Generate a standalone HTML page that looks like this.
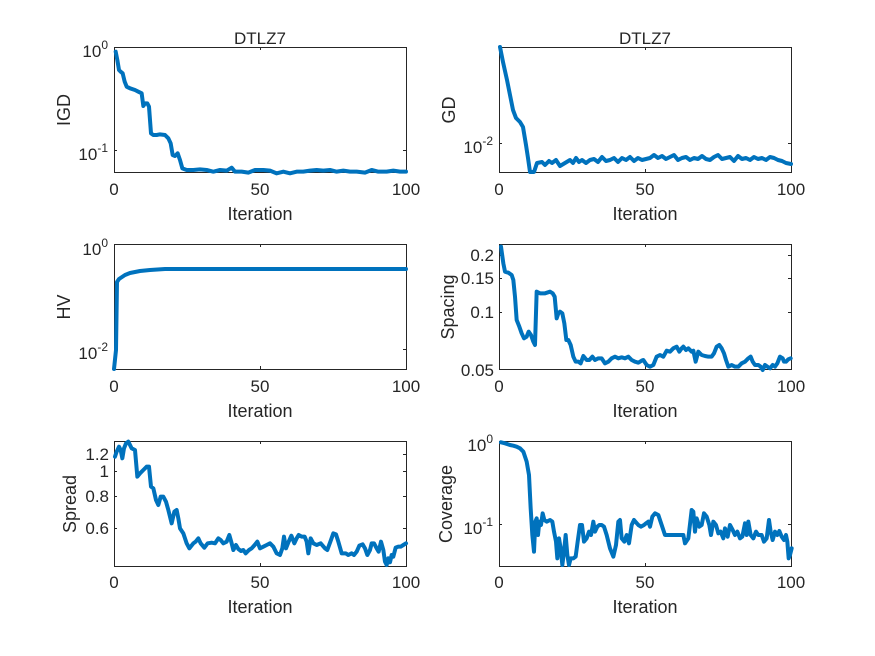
<!DOCTYPE html>
<html><head><style>body{margin:0;background:#fff}svg{display:block}text{font-family:"Liberation Sans",sans-serif;fill:#262626}</style></head>
<body>
<svg width="875" height="656" xmlns="http://www.w3.org/2000/svg">
<rect width="875" height="656" fill="#fff"/>
<g fill="none" stroke="#262626" stroke-width="1">
<rect x="114.5" y="47.5" width="292" height="125"/>
<rect x="499.5" y="47.5" width="292" height="125"/>
<rect x="114.5" y="244.5" width="292" height="125"/>
<rect x="499.5" y="244.5" width="292" height="125"/>
<rect x="114.5" y="441.5" width="292" height="125"/>
<rect x="499.5" y="441.5" width="292" height="125"/>
<path d="M260.5 172v-3M260.5 47v3M499.5 172v-3M645.5 172v-3M645.5 47v3M260.5 369v-3M260.5 244v3M645.5 369v-3M645.5 244v3M260.5 566v-3M260.5 441v3M645.5 566v-3M645.5 441v3
M114 150.5h3M406 150.5h-3M499 143.5h3M791 143.5h-3M114 349.5h3M406 349.5h-3M499 255.5h3M499 278.5h3M499 312.5h3M791 255.5h-3M791 278.5h-3M791 312.5h-3
M114 454.5h3M114 471.5h3M114 496.5h3M114 528.5h3M406 454.5h-3M406 471.5h-3M406 496.5h-3M406 528.5h-3M499 524.5h3M791 524.5h-3"/>
</g>
<g fill="none" stroke="#0072BD" stroke-width="4" stroke-linejoin="round" stroke-linecap="round">
<polyline transform="translate(50,20) scale(0.33333)" stroke-width="12" points="197,95 202,120 207,150 212,155 218,160 224,185 230,200 240,205 255,210 265,215 275,220 280,258 285,250 292,250 297,260 303,340 310,345 320,345 330,343 345,345 355,355 362,370 368,405 375,408 383,400 390,420 397,445 410,450 430,450 450,448 470,450 490,455 510,450 530,452 545,443 555,455 575,455 595,458 615,450 640,450 660,452 680,460 700,455 720,460 740,455 760,455 780,452 800,450 820,452 840,450 860,455 880,452 900,455 920,455 945,458 965,450 985,455 1010,455 1030,452 1050,455 1068,455"/>
<polyline points="500,47 503,62 507,80 510,95 513,110 516,118 520,122 523,127 526,145 528,158 530,172 534,172 537,163 542,162 545,165 549,161 552,163 556,160 560,166 565,163 570,160 573,163 576,158 579,162 582,160 586,163 590,160 594,159 598,162 602,157 606,161 610,160 614,158 618,162 622,158 626,160 630,157 634,161 638,158 642,160 646,159 650,158 654,155 658,158 662,156 666,159 670,157 674,155 678,160 682,158 686,157 690,160 694,158 698,159 702,156 706,159 710,160 714,157 718,155 722,159 726,158 730,157 734,161 738,156 742,159 746,158 750,160 754,157 758,159 762,158 766,160 770,157 774,158 778,160 782,161 786,163 791,164"/>
<polyline points="114,369 116,350 117,282 119,279 122,277 125,275 130,273 140,271 150,270 165,269 200,269 406,269"/>
<polyline transform="translate(430,230) scale(0.33333)" stroke-width="12" points="213,50 220,100 225,125 235,128 245,135 250,150 255,200 260,270 268,290 275,310 282,325 290,320 296,305 303,315 310,335 315,345 320,185 330,190 345,190 360,185 368,190 374,200 380,265 385,250 390,245 397,250 403,280 409,330 415,330 422,345 430,380 437,395 445,395 452,400 460,378 470,390 478,390 487,380 495,390 505,385 515,385 525,400 535,395 545,385 555,380 565,385 575,382 585,385 595,380 605,390 615,395 625,398 635,392 640,390 650,405 660,410 670,405 680,380 690,375 700,380 710,362 720,365 730,355 740,350 748,365 755,355 760,350 768,360 775,355 785,365 790,362 797,395 805,365 815,375 825,378 835,380 845,380 852,370 860,350 868,345 875,355 882,370 888,390 895,410 905,405 915,410 925,410 935,400 945,395 955,385 962,380 968,395 975,405 985,405 992,410 998,420 1005,405 1012,410 1020,415 1028,405 1035,410 1042,400 1050,380 1058,385 1062,395 1068,395 1075,388 1082,385"/>
<polyline transform="translate(50,425) scale(0.33333)" stroke-width="12" points="195,95 200,80 207,65 212,75 217,100 222,70 228,55 235,50 240,60 245,70 255,75 262,155 270,145 280,135 290,125 297,125 303,185 310,190 318,225 325,240 332,215 340,215 348,230 355,255 365,295 373,260 380,255 385,280 390,310 400,325 410,355 418,370 430,355 437,350 445,340 452,355 463,368 473,355 485,353 495,355 505,340 512,345 520,355 530,350 538,330 545,355 550,375 558,360 565,372 573,378 580,375 587,385 597,375 605,370 614,360 622,350 630,370 640,365 650,360 660,355 670,365 680,385 690,390 697,370 702,335 708,370 716,350 724,332 733,355 740,340 746,330 755,335 764,335 770,350 775,385 782,340 790,355 800,360 812,355 825,370 832,375 843,345 850,325 858,328 865,350 875,385 887,385 895,390 905,385 912,390 920,380 928,362 938,358 945,370 952,390 960,375 965,355 972,355 980,370 986,380 993,350 1000,375 1005,410 1010,420 1015,400 1020,412 1025,390 1030,395 1037,368 1045,365 1052,365 1060,360 1068,355"/>
<polyline transform="translate(430,425) scale(0.33333)" stroke-width="12" points="213,52 225,55 240,60 250,62 260,65 270,70 280,80 290,110 297,150 302,250 307,330 312,380 316,290 320,280 324,330 328,290 333,300 338,265 343,285 350,290 360,285 367,290 372,320 378,350 382,400 387,340 392,370 397,420 402,380 407,330 412,390 417,420 422,400 430,400 437,395 443,350 450,300 456,300 462,350 470,340 477,320 483,330 490,290 495,320 502,305 508,300 515,300 522,305 530,330 540,370 550,395 558,360 565,290 570,285 575,340 583,350 590,330 597,355 605,300 612,285 625,300 633,305 642,300 648,295 655,290 660,305 667,275 675,265 685,270 695,300 705,330 715,330 735,330 760,330 765,355 775,340 785,255 790,260 795,320 800,280 808,305 815,300 822,265 830,275 838,300 843,330 850,290 858,300 865,325 872,320 880,340 885,310 893,335 900,300 908,315 915,330 922,320 930,340 937,335 945,295 950,330 955,290 962,330 970,340 978,320 985,330 995,330 1002,350 1010,340 1017,285 1022,320 1028,345 1035,320 1042,330 1048,318 1055,335 1062,345 1068,330 1072,350 1076,400 1080,390 1085,370"/>
</g>
<g font-size="17">
<text x="260" y="44" text-anchor="middle">DTLZ7</text>
<text x="645" y="44" text-anchor="middle">DTLZ7</text>
<g text-anchor="middle">
<text x="114" y="195">0</text><text x="260" y="195">50</text><text x="406" y="195">100</text>
<text x="499" y="195">0</text><text x="645" y="195">50</text><text x="791" y="195">100</text>
<text x="114" y="392">0</text><text x="260" y="392">50</text><text x="406" y="392">100</text>
<text x="499" y="392">0</text><text x="645" y="392">50</text><text x="791" y="392">100</text>
<text x="114" y="588">0</text><text x="260" y="588">50</text><text x="406" y="588">100</text>
<text x="499" y="588">0</text><text x="645" y="588">50</text><text x="791" y="588">100</text>
<text x="260" y="220" font-size="18">Iteration</text><text x="645" y="220" font-size="18">Iteration</text>
<text x="260" y="417" font-size="18">Iteration</text><text x="645" y="417" font-size="18">Iteration</text>
<text x="260" y="613" font-size="18">Iteration</text><text x="645" y="613" font-size="18">Iteration</text>
</g>
<g text-anchor="end">
<text x="108" y="57">10<tspan font-size="12" dy="-8">0</tspan></text>
<text x="108" y="160">10<tspan font-size="12" dy="-8">-1</tspan></text>
<text x="493" y="153">10<tspan font-size="12" dy="-8">-2</tspan></text>
<text x="108" y="255">10<tspan font-size="12" dy="-8">0</tspan></text>
<text x="108" y="359">10<tspan font-size="12" dy="-8">-2</tspan></text>
<text x="494" y="261">0.2</text><text x="494" y="284">0.15</text><text x="494" y="318">0.1</text><text x="494" y="376">0.05</text>
<text x="109" y="460">1.2</text><text x="109" y="477">1</text><text x="109" y="502">0.8</text><text x="109" y="534">0.6</text>
<text x="493" y="451">10<tspan font-size="12" dy="-8">0</tspan></text>
<text x="493" y="534">10<tspan font-size="12" dy="-8">-1</tspan></text>
</g>
<g text-anchor="middle" font-size="18">
<text transform="translate(70,110) rotate(-90)">IGD</text>
<text transform="translate(455,110) rotate(-90)">GD</text>
<text transform="translate(70,307) rotate(-90)">HV</text>
<text transform="translate(454,307) rotate(-90)">Spacing</text>
<text transform="translate(76,504) rotate(-90)">Spread</text>
<text transform="translate(452,504) rotate(-90)">Coverage</text>
</g>
</g>
</svg>
</body></html>
